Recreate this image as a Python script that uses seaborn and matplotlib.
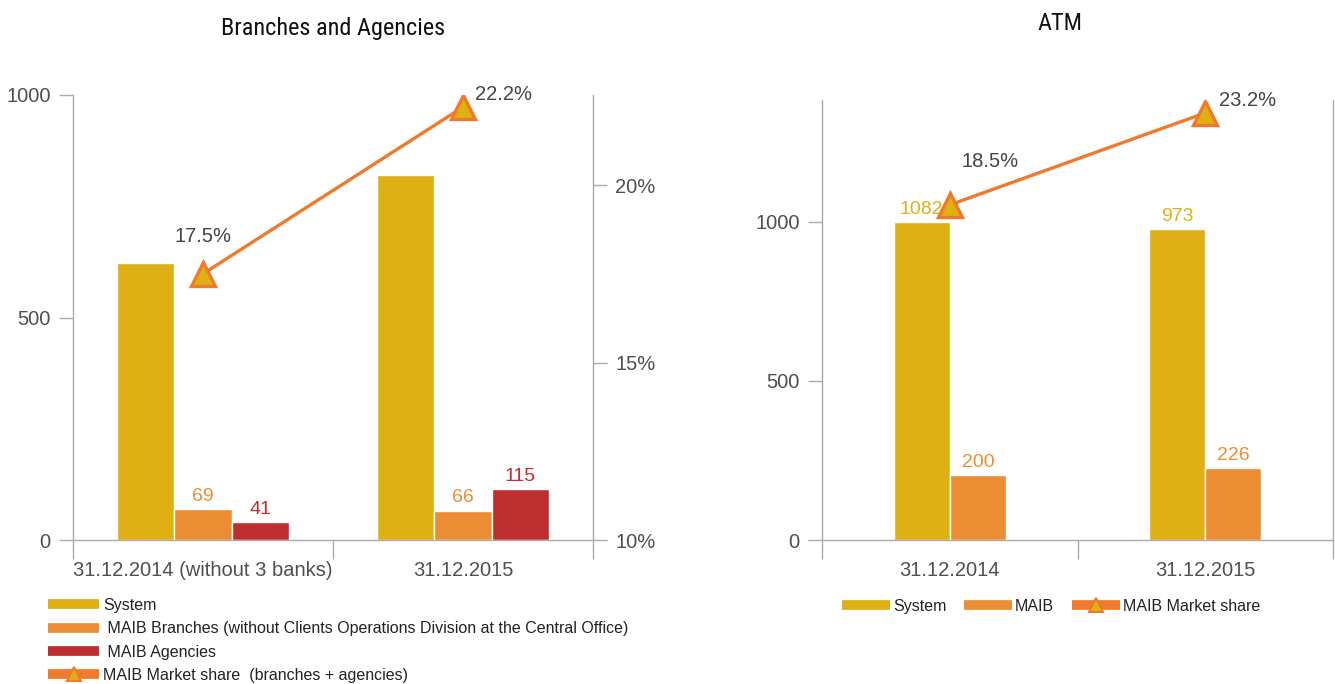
import matplotlib
matplotlib.use("Agg")
import matplotlib.pyplot as plt
from matplotlib.lines import Line2D
import pandas as pd
import seaborn as sns

# ── data ──────────────────────────────────────────────────────────────────────
branch_dates = ["31.12.2014 (without 3 banks)", "31.12.2015"]
branch_series = [
    "System",
    " MAIB Branches (without Clients Operations Division at the Central Office)",
    " MAIB Agencies",
]
branch_system = [622, 820]
branch_maib = [69, 66]
branch_agencies = [41, 115]
branch_share = [17.5, 22.2]
branch_share_name = "MAIB Market share  (branches + agencies)"

atm_dates = ["31.12.2014", "31.12.2015"]
atm_series = ["System", "MAIB"]
atm_system = [1000, 976]          # bar heights as drawn in the source
atm_system_labels = ["1082", "973"]  # labels as printed in the source
atm_maib = [203, 226]
atm_maib_labels = ["200", "226"]
atm_share = [18.5, 23.2]
atm_share_name = "MAIB Market share"

# ── style ─────────────────────────────────────────────────────────────────────
GOLD = "#DEB014"
ORANGE = "#EC8D33"
RED = "#BF2E2E"
LINE = "#F07A2C"
AXIS = "#ABABAB"
TEXT = "#4F4F4F"
DARK = "#444444"

sns.set_style("white")
plt.rcParams["font.family"] = ["Liberation Sans", "DejaVu Sans"]
TITLE_FONT = ["Roboto Condensed", "Liberation Sans Narrow", "DejaVu Sans Condensed",
              "Liberation Sans"]

W, H = 1335, 684
fig = plt.figure(figsize=(W / 100, H / 100), dpi=100)


def px_box(left, top, right, bottom):
    return [left / W, 1 - bottom / H, (right - left) / W, (bottom - top) / H]


def draw_panel(ax, dates, series, values, colors, group_width, ylim, yticks,
               bar_labels, label_colors, share, share_ylim, share_ticks, share_offsets):
    df = pd.DataFrame({
        "date": [d for _ in series for d in dates],
        "series": [s for s in series for _ in dates],
        "value": [v for vals in values for v in vals],
    })
    sns.barplot(data=df, x="date", y="value", hue="series", palette=colors,
                width=group_width, saturation=1, legend=False, ax=ax)
    for container, labels, col in zip(ax.containers, bar_labels, label_colors):
        ax.bar_label(container, labels=labels, padding=3, color=col, fontsize=14)

    ax2 = ax.twinx()
    sns.pointplot(x=dates, y=share, ax=ax2, color=LINE, markers="^",
                  linestyles="-", errorbar=None, linewidth=2.4)
    for ln in ax2.lines:
        ln.set_markerfacecolor(GOLD)
        ln.set_markeredgecolor(LINE)
        ln.set_markeredgewidth(2.4)
        ln.set_markersize(17)
    for i, (val, (dx, dy, ha)) in enumerate(zip(share, share_offsets)):
        ax2.annotate(f"{val:.1f}%", xy=(i, val), xytext=(dx, dy),
                     textcoords="offset points", ha=ha, va="center",
                     fontsize=14.5, color=DARK)
    ax2.set_ylim(*share_ylim)
    ax2.set_ylabel("")

    # axes / ticks
    ax.set_ylim(*ylim)
    ax.set_yticks(yticks)
    ax.set_xlim(-0.5, len(dates) - 0.5)
    ax.set_xticks([i - 0.5 for i in range(len(dates) + 1)])
    ax.set_xticklabels([])
    ax.set_xticks(range(len(dates)), minor=True)
    ax.set_xticklabels(dates, minor=True)
    ax.tick_params(axis="x", which="major", length=14, width=1, color=AXIS,
                   direction="out", bottom=True)
    ax.tick_params(axis="x", which="minor", length=0, pad=15, labelsize=14.5,
                   labelcolor=TEXT)
    ax.tick_params(axis="y", length=10, width=1, color=AXIS, direction="out",
                   left=True, pad=6, labelsize=14.5, labelcolor=TEXT)
    ax.set_xlabel("")
    ax.set_ylabel("")

    for a in (ax, ax2):
        a.spines["top"].set_visible(False)
        for s in ("left", "right", "bottom"):
            a.spines[s].set_color(AXIS)
            a.spines[s].set_linewidth(1)
    ax.spines["right"].set_visible(False)
    ax2.spines["left"].set_visible(False)
    ax2.spines["bottom"].set_visible(False)

    if share_ticks:
        ax2.set_yticks(share_ticks)
        ax2.set_yticklabels([f"{t}%" for t in share_ticks])
        ax2.tick_params(axis="y", length=10, width=1, color=AXIS, direction="out",
                        right=True, pad=6, labelsize=14.5, labelcolor=TEXT)
    else:
        ax2.set_yticks([])
    return ax2


# ── left panel: branches and agencies ─────────────────────────────────────────
ax_l = fig.add_axes(px_box(73, 95, 593, 540))
draw_panel(
    ax_l, branch_dates, branch_series,
    [branch_system, branch_maib, branch_agencies],
    [GOLD, ORANGE, RED], 0.66, (0, 1000), [0, 500, 1000],
    [["", ""], [str(v) for v in branch_maib], [str(v) for v in branch_agencies]],
    [GOLD, ORANGE, RED],
    branch_share, (10, 22.54), [10, 15, 20],
    [(0, 27, "center"), (9, 9, "left")],
)

# ── right panel: ATM ──────────────────────────────────────────────────────────
ax_r = fig.add_axes(px_box(822, 100, 1333, 540))
draw_panel(
    ax_r, atm_dates, atm_series,
    [atm_system, atm_maib],
    [GOLD, ORANGE], 0.44, (0, 1383), [0, 500, 1000],
    [atm_system_labels, atm_maib_labels],
    [GOLD, ORANGE],
    atm_share, (1.38, 23.86), None,
    [(29, 31, "center"), (10, 9, "left")],
)

# titles
fig.text(333 / W, 1 - 29 / H, "Branches and Agencies", ha="center", va="center",
         fontsize=17.5, family=TITLE_FONT, color="#111111")
fig.text(1060 / W, 1 - 23 / H, "ATM", ha="center", va="center",
         fontsize=17.5, family=TITLE_FONT, color="#111111")


# legends
def bar_handle(color):
    return Line2D([], [], color=color, lw=7, solid_capstyle="butt")


share_handle = Line2D([], [], color=LINE, lw=7, solid_capstyle="butt", marker="^",
                      markersize=10, markerfacecolor=GOLD, markeredgecolor=LINE,
                      markeredgewidth=1.5)

fig.legend(
    [bar_handle(GOLD), bar_handle(ORANGE), bar_handle(RED), share_handle],
    branch_series + [branch_share_name],
    loc="upper left", bbox_to_anchor=(48 / W, 1 - 598 / H), frameon=False,
    fontsize=11.5, handlelength=3.2, handletextpad=0.25, labelspacing=0.52,
    borderpad=0, borderaxespad=0, labelcolor="#222222",
)
fig.legend(
    [bar_handle(GOLD), bar_handle(ORANGE), share_handle],
    atm_series + [atm_share_name],
    loc="upper left", bbox_to_anchor=(842 / W, 1 - 599 / H), frameon=False, ncol=3,
    fontsize=11.5, handlelength=3.0, handletextpad=0.2, columnspacing=1.1,
    borderpad=0, borderaxespad=0, labelcolor="#222222",
)

fig.savefig("out.png", dpi=100)
